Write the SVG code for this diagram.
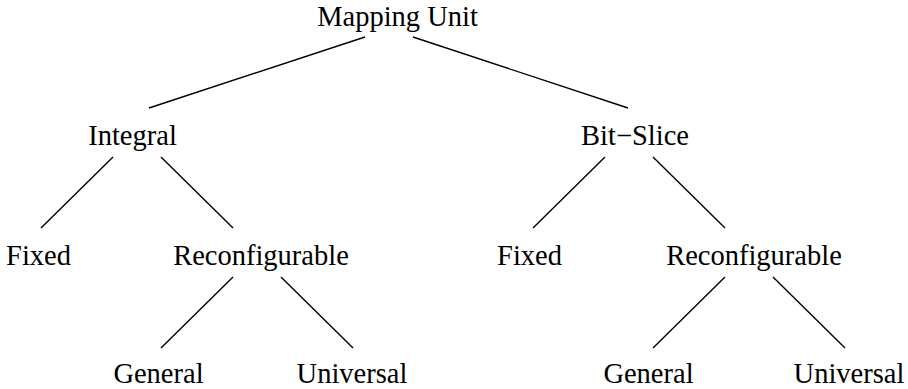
<svg xmlns="http://www.w3.org/2000/svg" width="908" height="389" viewBox="0 0 908 389">
  <style>
    .lbl { font-family: "Liberation Serif", "Times New Roman", serif; font-size: 28.5px; fill: #000; text-anchor: middle; }
    .edge { stroke: #000; stroke-width: 1.4; fill: none; stroke-linecap: butt; }
  </style>
  <rect width="908" height="389" fill="#fff"/>

  <!-- tree edges -->
  <g id="connectors">
    <line class="edge" x1="365" y1="37" x2="149" y2="108"/>
    <line class="edge" x1="413" y1="37" x2="628" y2="108"/>

    <line class="edge" x1="113" y1="157" x2="41" y2="228"/>
    <line class="edge" x1="161" y1="157" x2="233" y2="228"/>
    <line class="edge" x1="605" y1="157" x2="533" y2="228"/>
    <line class="edge" x1="653" y1="157" x2="725" y2="228"/>

    <line class="edge" x1="233" y1="277" x2="161" y2="348"/>
    <line class="edge" x1="281" y1="277" x2="353" y2="348"/>
    <line class="edge" x1="725" y1="277" x2="653" y2="348"/>
    <line class="edge" x1="773" y1="277" x2="845" y2="348"/>
  </g>

  <!-- nodes -->
  <g id="root"><text class="lbl" x="397.5" y="26">Mapping Unit</text></g>

  <g id="integral"><text class="lbl" x="132.5" y="145">Integral</text></g>
  <g id="bitslice"><text class="lbl" x="635" y="145">Bit−Slice</text></g>

  <g id="integral-fixed"><text class="lbl" x="38.5" y="265">Fixed</text></g>
  <g id="integral-reconf"><text class="lbl" x="261" y="265">Reconfigurable</text></g>
  <g id="bitslice-fixed"><text class="lbl" x="529.5" y="265">Fixed</text></g>
  <g id="bitslice-reconf"><text class="lbl" x="754" y="265">Reconfigurable</text></g>

  <g id="integral-general"><text class="lbl" x="158.5" y="383">General</text></g>
  <g id="integral-universal"><text class="lbl" x="352" y="383">Universal</text></g>
  <g id="bitslice-general"><text class="lbl" x="648.5" y="383">General</text></g>
  <g id="bitslice-universal"><text class="lbl" x="849" y="383">Universal</text></g>
</svg>
